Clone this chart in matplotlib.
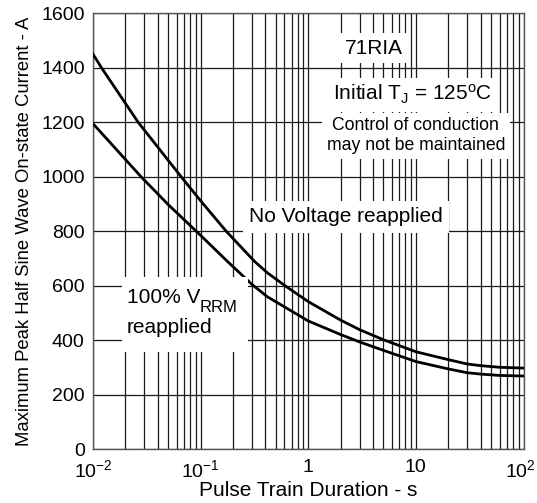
import numpy as np
import matplotlib
matplotlib.use("Agg")
import matplotlib.pyplot as plt
import matplotlib.transforms as mtransforms
from matplotlib.ticker import LogLocator, NullFormatter, FixedLocator
from matplotlib.patches import Rectangle

plt.rcParams['font.family'] = ['Liberation Sans', 'DejaVu Sans']
plt.rcParams['mathtext.fontset'] = 'custom'
plt.rcParams['mathtext.rm'] = 'Liberation Sans'
plt.rcParams['mathtext.it'] = 'Liberation Sans:italic'

# Data
dur_no_voltage = [0.01, 0.012, 0.0263, 0.066, 0.1, 0.173, 0.316, 0.416, 0.62, 1, 2, 3, 5, 10, 20, 30, 40, 60, 100]
cur_no_voltage = [1450, 1400, 1200, 1000, 912, 800, 690, 648, 598, 542, 474, 439, 402, 358, 329, 313, 307, 301, 298]

dur_vrrm = [0.01, 0.028, 0.05, 0.1, 0.178, 0.3, 0.416, 1, 2, 3, 5, 10, 20, 30, 40, 60, 100]
cur_vrrm = [1195, 1000, 898, 785, 689, 605, 560, 471, 421, 394, 363, 322, 295, 281, 276, 271, 269]

x_ticks = [0.01, 0.1, 1, 10, 100]
x_ticklabels = [r'$\mathregular{10^{-2}}$', r'$\mathregular{10^{-1}}$', '1', '10', r'$\mathregular{10^{2}}$']
y_ticks = [0, 200, 400, 600, 800, 1000, 1200, 1400, 1600]

fig = plt.figure(figsize=(5.37, 5.03), dpi=100)
ax = fig.add_axes([93/537, (503-449.3)/503, 430.5/537, 436/503])

ax.set_xscale('log')
ax.set_xlim(0.01, 100)
ax.set_ylim(0, 1600)

ax.xaxis.set_major_locator(FixedLocator(x_ticks))
ax.set_xticklabels(x_ticklabels)
ax.xaxis.set_minor_locator(LogLocator(base=10, subs=np.arange(2, 10)))
ax.xaxis.set_minor_formatter(NullFormatter())
ax.set_yticks(y_ticks)

ax.grid(True, which='both', axis='x', color='#1a1a1a', linewidth=0.9)
ax.grid(True, which='major', axis='y', color='#1a1a1a', linewidth=0.9)
ax.set_axisbelow(True)

ax.tick_params(axis='both', which='both', length=0, labelsize=14)
ax.tick_params(axis='x', pad=7)
ax.tick_params(axis='y', pad=6)
for s in ax.spines.values():
    s.set_color('#555555')
    s.set_linewidth(1.0)

# nudge the last x tick label slightly left so it stays inside the figure
last = ax.get_xticklabels()[-1]
last.set_transform(last.get_transform() + mtransforms.ScaledTranslation(-3/100, 0, fig.dpi_scale_trans))

ax.plot(dur_no_voltage, cur_no_voltage, color='black', linewidth=2.0, zorder=3)
ax.plot(dur_vrrm, cur_vrrm, color='black', linewidth=2.0, zorder=3)

ax.set_xlabel('Pulse Train Duration - s', fontsize=15, labelpad=0)
ax.set_ylabel('Maximum Peak Half Sine Wave On-state Current - A', fontsize=13.3, labelpad=6)

box = dict(facecolor='white', edgecolor='none', boxstyle='square,pad=0.25')
ax.text(0.653, 0.920, '71RIA', transform=ax.transAxes, ha='center', va='center',
        fontsize=15, bbox=box, zorder=4)
ax.text(0.743, 0.813, r'Initial T$_{\mathregular{J}}$ = 125$^{\mathregular{o}}$C', transform=ax.transAxes,
        ha='center', va='center', fontsize=15, bbox=box, zorder=4)
ax.text(0.750, 0.719, 'Control of conduction\nmay not be maintained', transform=ax.transAxes,
        ha='center', va='center', fontsize=12.7, linespacing=1.25, bbox=box, zorder=4)
ax.text(0.588, 0.533, 'No Voltage reapplied', transform=ax.transAxes, ha='center', va='center',
        fontsize=15, bbox=dict(facecolor='white', edgecolor='none', boxstyle='square,pad=0.3'), zorder=4)

# 100% VRRM reapplied label with its white background
ax.add_patch(Rectangle((0.067, 0.223), 0.293, 0.172, transform=ax.transAxes,
                       facecolor='white', edgecolor='none', zorder=4))
ax.text(0.079, 0.335, '100% V', transform=ax.transAxes, ha='left', va='baseline',
        fontsize=15, zorder=5)
ax.text(0.2485, 0.316, 'RRM', transform=ax.transAxes, ha='left', va='baseline',
        fontsize=12, zorder=5)
ax.text(0.079, 0.267, 'reapplied', transform=ax.transAxes, ha='left', va='baseline',
        fontsize=15, zorder=5)

fig.savefig('out.png', dpi=100, facecolor='white')
